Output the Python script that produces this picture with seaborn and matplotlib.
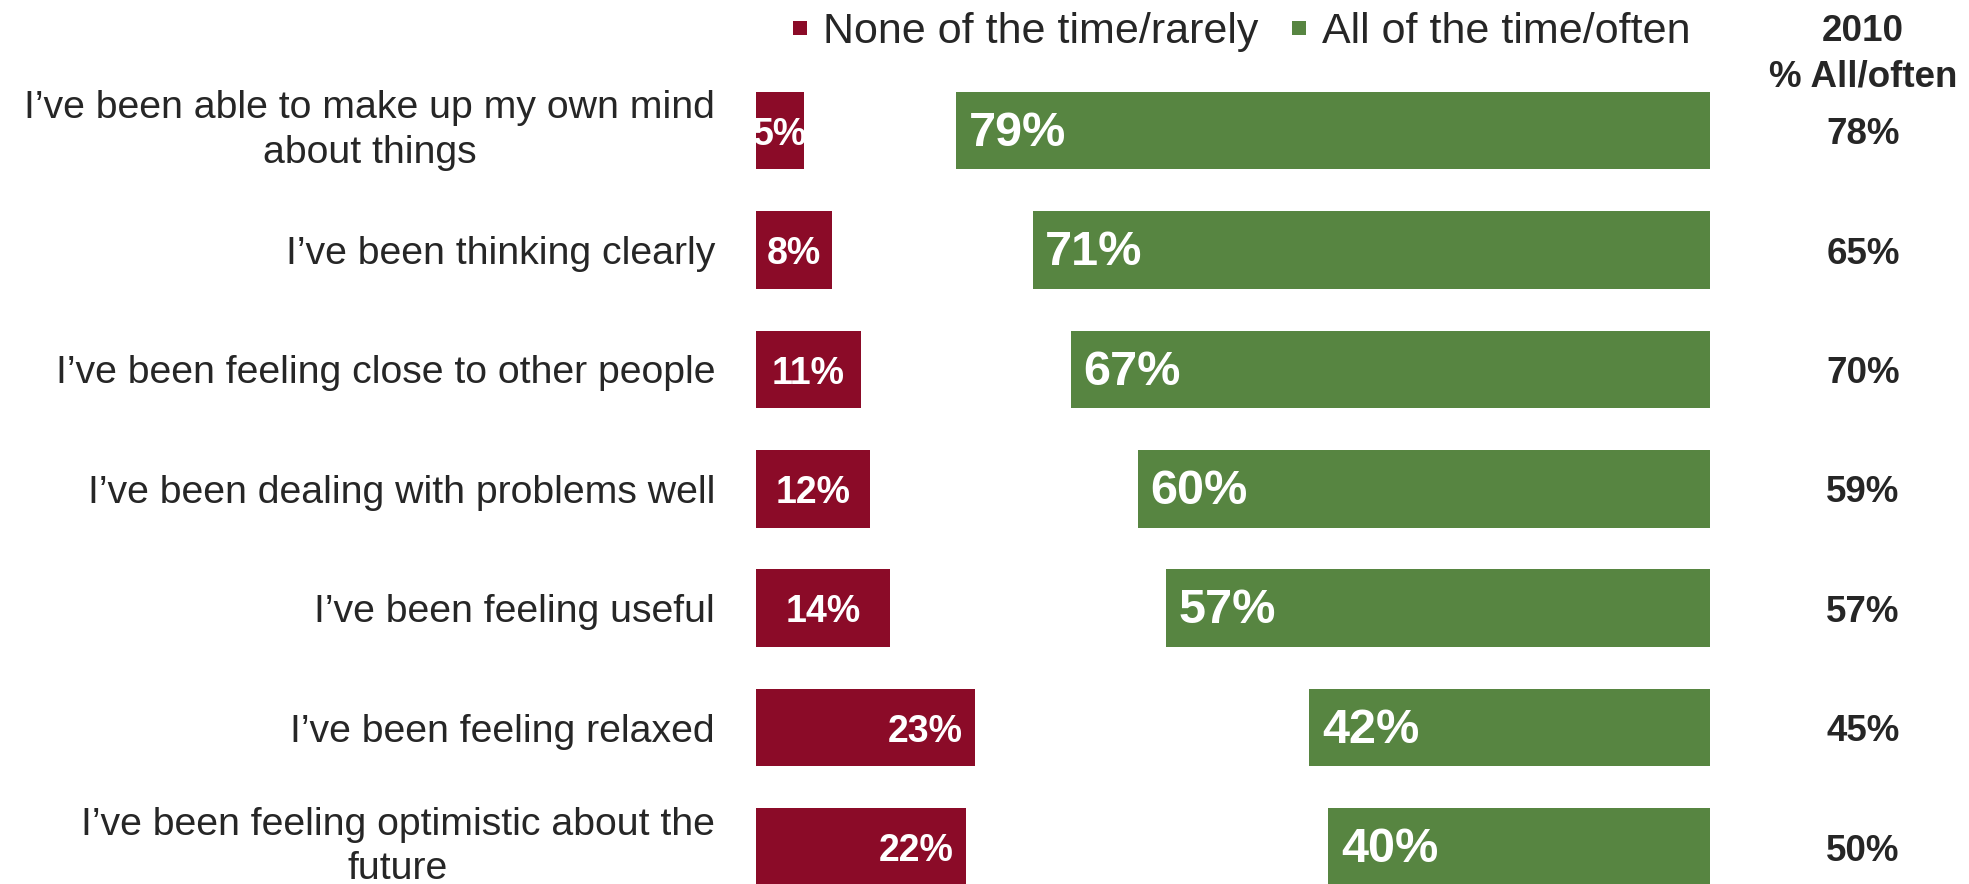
import matplotlib
matplotlib.use("Agg")
import matplotlib.pyplot as plt
from matplotlib.lines import Line2D
from matplotlib.transforms import blended_transform_factory
import seaborn as sns
import pandas as pd

categories = [
    "I\u2019ve been able to make up my own mind\nabout things",
    "I\u2019ve been thinking clearly",
    "I\u2019ve been feeling close to other people",
    "I\u2019ve been dealing with problems well",
    "I\u2019ve been feeling useful",
    "I\u2019ve been feeling relaxed",
    "I\u2019ve been feeling optimistic about the\nfuture",
]
none_rarely = [5, 8, 11, 12, 14, 23, 22]
all_often = [79, 71, 67, 60, 57, 42, 40]
all_often_2010 = [78, 65, 70, 59, 57, 45, 50]
legend_labels = ["None of the time/rarely", "All of the time/often"]
header_2010 = "2010\n% All/often"

RED = "#8B0B28"
GREEN = "#578541"
TEXT = "#262626"

sns.set_theme(style="white")
plt.rcParams["font.family"] = ["Liberation Sans", "DejaVu Sans"]

df = pd.DataFrame({"cat": categories, "none": none_rarely, "all": all_often})
df["some"] = 100 - df["none"] - df["all"]
df["cum_none_some"] = df["none"] + df["some"]
df["cum_all"] = df["none"] + df["some"] + df["all"]

fig = plt.figure(figsize=(19.69, 8.84), dpi=100)
ax = fig.add_axes([756 / 1969, -0.0257, 954 / 1969, 835.8 / 884])

sns.barplot(data=df, x="cum_all", y="cat", color=GREEN, saturation=1,
            width=0.65, linewidth=0, ax=ax, orient="h")
sns.barplot(data=df, x="cum_none_some", y="cat", color="white", saturation=1,
            width=0.65, linewidth=0, ax=ax, orient="h")
sns.barplot(data=df, x="none", y="cat", color=RED, saturation=1,
            width=0.65, linewidth=0, ax=ax, orient="h")

ax.set_xlim(0, 100)
ax.set_ylim(6.5, -0.5)
ax.set_xlabel("")
ax.set_ylabel("")
ax.set_xticks([])
sns.despine(ax=ax, left=True, bottom=True)
ax.tick_params(axis="y", length=0, labelleft=False)

tr = blended_transform_factory(fig.transFigure, ax.transData)

# category labels
for i, c in enumerate(categories):
    ax.text(715 / 1969, i, c, transform=tr, ha="right",
            va="center" if "\n" in c else "center_baseline",
            multialignment="center", linespacing=1.3,
            fontsize=28.3, color=TEXT)

# value labels
for i, (r, g, s) in enumerate(zip(none_rarely, all_often, df["cum_none_some"])):
    if r < 20:
        ax.annotate(f"{r}%", (r / 2, i), xytext=(0, -3), textcoords="offset points",
                    ha="center", va="center", color="white",
                    fontsize=27, fontweight="bold")
    else:
        ax.annotate(f"{r}%", (r, i), xytext=(-9, -3), textcoords="offset points",
                    ha="right", va="center", color="white", fontsize=27,
                    fontweight="bold")
    ax.annotate(f"{g}%", (s, i), xytext=(9, -2), textcoords="offset points",
                ha="left", va="center", color="white", fontsize=35,
                fontweight="bold")

# 2010 column
for i, v in enumerate(all_often_2010):
    ax.annotate(f"{v}%", (1863 / 1969, i), xycoords=tr, xytext=(0, -3),
                textcoords="offset points", ha="center", va="center",
                color=TEXT, fontsize=26.5, fontweight="bold")
fig.text(1863 / 1969, 1 - 54 / 884, header_2010, ha="center", va="center",
         color=TEXT, fontsize=26.5, fontweight="bold", linespacing=1.38)

# legend
handles = [Line2D([], [], marker="s", linestyle="none", markersize=10,
                  markerfacecolor=RED, markeredgewidth=0),
           Line2D([], [], marker="s", linestyle="none", markersize=10,
                  markerfacecolor=GREEN, markeredgewidth=0)]
leg = fig.legend(handles, legend_labels, ncol=2, loc="center left",
                 bbox_to_anchor=(789 / 1969, 1 - 32 / 884), frameon=False,
                 fontsize=31, handlelength=0.5, handletextpad=0.28,
                 columnspacing=0.7, borderpad=0, borderaxespad=0)
for t in leg.get_texts():
    t.set_color(TEXT)

fig.savefig("out.png", dpi=100)
